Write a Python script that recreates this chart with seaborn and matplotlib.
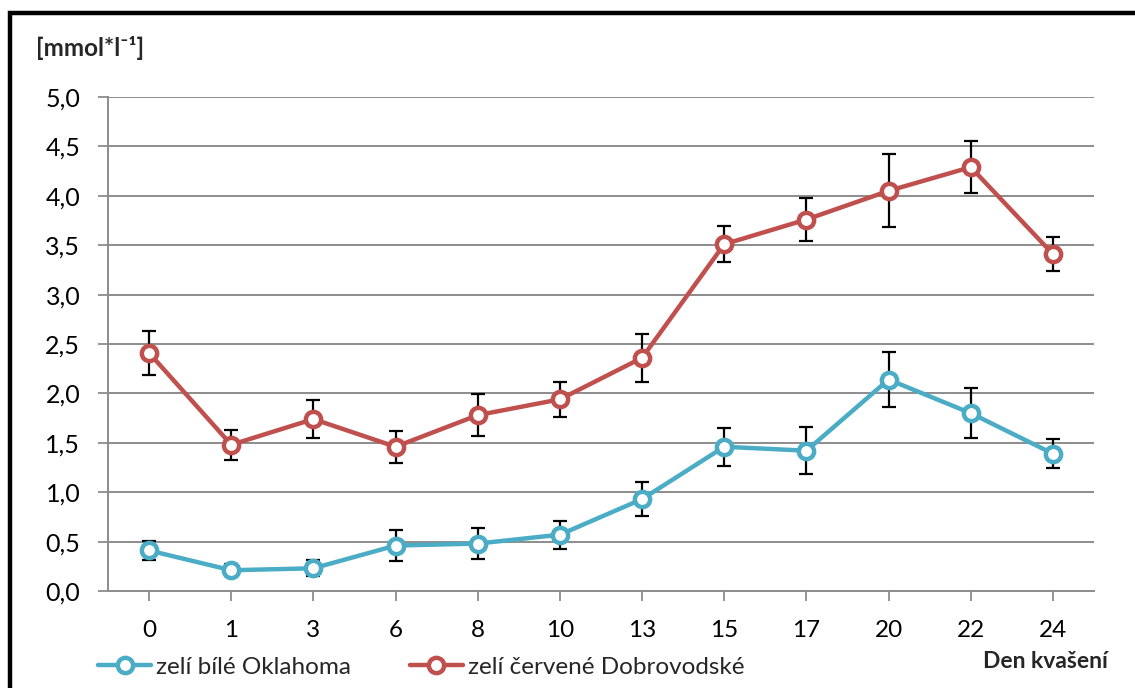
import matplotlib
matplotlib.use("Agg")
import matplotlib.pyplot as plt
from matplotlib.patches import Rectangle
from matplotlib.lines import Line2D
import numpy as np
import pandas as pd
import seaborn as sns

# Fermentation days and measured concentrations
days = ["0", "1", "3", "6", "8", "10", "13", "15", "17", "20", "22", "24"]
white = [0.41, 0.21, 0.23, 0.46, 0.48, 0.57, 0.93, 1.46, 1.42, 2.14, 1.80, 1.39]
white_err = [0.10, 0.06, 0.08, 0.16, 0.16, 0.14, 0.17, 0.19, 0.24, 0.28, 0.25, 0.15]
red = [2.41, 1.48, 1.74, 1.46, 1.78, 1.94, 2.36, 3.51, 3.76, 4.05, 4.29, 3.41]
red_err = [0.22, 0.15, 0.19, 0.16, 0.21, 0.18, 0.24, 0.18, 0.22, 0.37, 0.26, 0.17]
series_names = ["zelí bílé Oklahoma", "zelí červené Dobrovodské"]
colors = ["#4BACC6", "#C0504D"]

sns.set_theme(style="white")
plt.rcParams["font.family"] = ["Lato", "DejaVu Sans"]

pos = np.arange(len(days))
df = pd.DataFrame({
    "pos": np.concatenate([pos, pos]),
    "value": white + red,
    "err": white_err + red_err,
    "series": [series_names[0]] * len(days) + [series_names[1]] * len(days),
})

fig = plt.figure(figsize=(11.35, 6.88), dpi=100)
ax = fig.add_axes([108 / 1135, 1 - 591 / 688, (1094 - 108) / 1135, (591 - 97) / 688])

# error bars first so lines/markers sit on top
for name in series_names:
    sub = df[df["series"] == name]
    ax.errorbar(sub["pos"], sub["value"], yerr=sub["err"], fmt="none",
                ecolor="black", elinewidth=1.6, capsize=5, capthick=1.6, zorder=2)

sns.lineplot(data=df, x="pos", y="value", hue="series", palette=colors,
             hue_order=series_names, marker="o", markersize=11,
             markerfacecolor="white", markeredgewidth=3.2, linewidth=3.2,
             legend=False, ax=ax, zorder=3)
for line, c in zip(ax.lines[-2:], colors):
    line.set_markeredgecolor(c)

ax.set_xlim(-0.5, len(days) - 0.5)
ax.set_ylim(0, 5)
ax.set_yticks(np.arange(0, 5.01, 0.5))
ax.set_yticklabels([f"{v:.1f}".replace(".", ",") for v in np.arange(0, 5.01, 0.5)])
ax.set_xticks(pos)
ax.set_xticklabels(days)
ax.set_xlabel("")
ax.set_ylabel("")
ax.grid(axis="y", color="#8C8C8C", linewidth=1.4)
ax.set_axisbelow(True)
for s in ["top", "right"]:
    ax.spines[s].set_visible(False)
for s in ["left", "bottom"]:
    ax.spines[s].set_color("#8C8C8C")
    ax.spines[s].set_linewidth(1.4)
ax.tick_params(axis="both", which="both", direction="out", length=7, width=1.3,
               color="#8C8C8C", labelcolor="black", left=True, bottom=True)
ax.tick_params(axis="y", labelsize=18, pad=13)
ax.tick_params(axis="x", labelsize=17.5, pad=14)

# outer frame
fig.patches.append(Rectangle((10 / 1135, -0.2), 1.5, 1.2 - 13 / 688,
                             transform=fig.transFigure, fill=False,
                             edgecolor="black", linewidth=3.2, zorder=0))

fig.text(36 / 1135, 1 - 48 / 688, "[mmol*l\u207b\u00b9]", fontsize=17.5,
         fontweight="bold", va="center", ha="left")
fig.text(1108 / 1135, 1 - 661 / 688, "Den kvašení", fontsize=16.5, fontweight="bold",
         va="center", ha="right")

handles = [Line2D([], [], color=c, linewidth=3.2, marker="o", markersize=11,
                  markerfacecolor="white", markeredgecolor=c, markeredgewidth=3.2)
           for c in colors]
fig.legend(handles, series_names, loc="center left",
           bbox_to_anchor=(98 / 1135, 1 - 667 / 688), ncol=2, frameon=False,
           fontsize=17.5, handlelength=2.2, handletextpad=0.2, columnspacing=2.4,
           borderaxespad=0, borderpad=0)

fig.savefig("out.png", dpi=100)
